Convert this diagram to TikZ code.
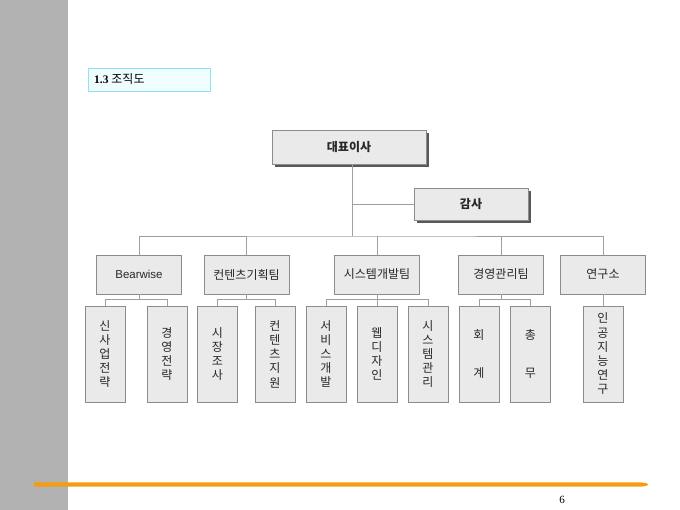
\documentclass[tikz,border=0pt]{standalone}
\usepackage{fontspec}
\setmainfont{Liberation Serif}
\newfontfamily\kr{Noto Sans CJK KR}
\newfontfamily\lat{Liberation Sans}
\usetikzlibrary{shadows}
\definecolor{boxfill}{RGB}{234,234,234}
\definecolor{boxline}{RGB}{140,140,140}
\definecolor{connline}{RGB}{160,160,160}
\definecolor{sidebar}{RGB}{178,178,178}
\definecolor{orangebar}{RGB}{246,156,18}
\definecolor{titleline}{RGB}{140,228,238}
\definecolor{titlefill}{RGB}{240,253,254}
\definecolor{txt}{RGB}{40,40,40}
\tikzset{
  topbox/.style={draw=boxline, fill=boxfill, line width=0.8pt, minimum height=34pt, inner sep=0pt,
    text=txt, font=\kr\fontsize{12}{14}\selectfont\bfseries,
    drop shadow={shadow xshift=3pt, shadow yshift=-3pt, fill=black!65, opacity=1}},
  lvtwo/.style={draw=boxline, fill=boxfill, line width=0.6pt, minimum width=85pt, minimum height=39pt,
    inner sep=0pt, text=txt, font=\kr\fontsize{12}{14}\selectfont},
  lvthree/.style={draw=boxline, fill=boxfill, line width=0.6pt, minimum width=40pt, minimum height=96pt,
    inner sep=0pt, text=txt, align=center, font=\kr\fontsize{12}{14.2}\selectfont},
  conn/.style={draw=connline, line width=0.8pt}
}
\begin{document}
\begin{tikzpicture}[x=1pt, y=-1pt]
\useasboundingbox (0,0) rectangle (680,510);
% side bar and footer
\fill[sidebar] (0,0) rectangle (68,510);
\fill[orangebar] (34,482.3) -- (638,482.3) .. controls (645,482.4) and (648,483.5) .. (648,484.5)
  .. controls (648,485.5) and (645,486.6) .. (638,486.7) -- (34,486.7) -- cycle;
\node[font=\fontsize{11}{13}\selectfont, text=black] (pnum) at (562,500) {6};
% title
\node[draw=titleline, fill=titlefill, line width=0.8pt, minimum width=122pt, minimum height=23pt,
  inner sep=0pt] (titlebox) at (149,79.5) {};
\node[anchor=west, inner sep=0pt, text=black] (title) at (94,79.5)
  {\fontsize{11.5}{13}\selectfont\textbf{1.3} \kr\fontsize{12}{14}\selectfont 조직도};
% top
\node[topbox, minimum width=154pt] (ceo) at (349,147) {대표이사};
\node[topbox, minimum width=114pt, minimum height=32pt] (audit) at (471,204) {감사};
\coordinate (bus) at (352,236);
% level 2
\node[lvtwo] (b1) at (139,274.5) {\lat\fontsize{11.5}{13}\selectfont Bearwise};
\node[lvtwo] (b2) at (246.5,274.5) {컨텐츠기획팀};
\node[lvtwo] (b3) at (377,274.5) {시스템개발팀};
\node[lvtwo] (b4) at (501,274.5) {경영관리팀};
\node[lvtwo] (b5) at (603,274.5) {연구소};
% level 3
\node[lvthree] (c1) at (105,354) {신\\사\\업\\전\\략};
\node[lvthree] (c2) at (167,354) {경\\영\\전\\략};
\node[lvthree] (c3) at (217.5,354) {시\\장\\조\\사};
\node[lvthree] (c4) at (275,354) {컨\\텐\\츠\\지\\원};
\node[lvthree] (c5) at (326,354) {서\\비\\스\\개\\발};
\node[lvthree] (c6) at (377,354) {웹\\디\\자\\인};
\node[lvthree] (c7) at (428,354) {시\\스\\템\\관\\리};
\node[lvthree] (c8) at (479,354) {회\\[23pt]계};
\node[lvthree] (c9) at (530.5,354) {총\\[23pt]무};
\node[lvthree] (c10) at (603,354) {인\\공\\지\\능\\연\\구};
% connectors
\draw[conn] (ceo.south -| bus) -- (bus);
\draw[conn] (audit.west) -- (audit.west -| bus);
\draw[conn] (b1.north) |- (bus) -| (b5.north);
\draw[conn] (b2.north) -- (b2.north |- bus);
\draw[conn] (b3.north) -- (b3.north |- bus);
\draw[conn] (b4.north) -- (b4.north |- bus);
\draw[conn] (b1.south) -- ++(0,6);
\draw[conn] (c1.north) -- ++(0,-6) -| (c2.north);
\draw[conn] (b2.south) -- ++(0,6);
\draw[conn] (c3.north) -- ++(0,-6) -| (c4.north);
\draw[conn] (b3.south) -- ++(0,6);
\draw[conn] (c5.north) -- ++(0,-6) -| (c7.north);
\draw[conn] (c6.north) -- ++(0,-6);
\draw[conn] (b4.south) -- ++(0,6);
\draw[conn] (c8.north) -- ++(0,-6) -| (c9.north);
\draw[conn] (b5.south) -- (c10.north);
\end{tikzpicture}
\end{document}
